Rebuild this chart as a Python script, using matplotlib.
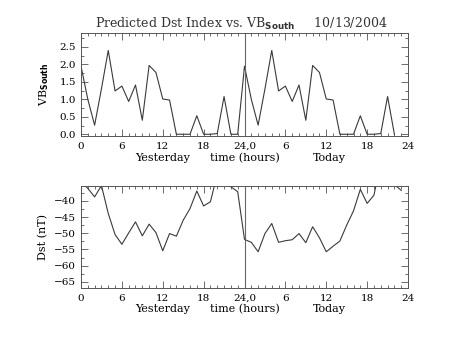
"""Predicted Dst index and southward VB, yesterday and today."""
import numpy as np
import matplotlib

matplotlib.use("Agg")
import matplotlib.pyplot as plt
from matplotlib.ticker import MultipleLocator

# hours since start of yesterday (0-23 yesterday, 24-47 today)
vb_hours = np.arange(0, 47)
vb_south = [1.95, 1.0, 0.26, 1.3, 2.4, 1.24, 1.38, 0.94, 1.41, 0.40,
            1.97, 1.77, 1.01, 0.98, 0.0, 0.0, 0.0, 0.53, 0.0, 0.0,
            0.02, 1.08, 0.0, 0.0,
            1.95, 1.0, 0.26, 1.3, 2.4, 1.24, 1.38, 0.94, 1.41, 0.40,
            1.97, 1.77, 1.01, 0.98, 0.0, 0.0, 0.0, 0.53, 0.0, 0.0,
            0.02, 1.08, 0.0]

dst_hours = np.arange(0, 48)
dst = [-34.0, -36.2, -38.8, -35.3, -43.9, -50.4, -53.4, -49.9, -46.5, -50.8,
       -47.2, -49.8, -55.4, -50.1, -50.9, -46.0, -42.4, -37.0, -41.6, -40.3,
       -31.8, -34.0, -35.7, -37.2,
       -51.9, -52.8, -55.7, -50.1, -47.0, -52.8, -52.3, -52.0, -50.1, -52.9,
       -48.0, -51.4, -55.7, -54.0, -52.4, -47.5, -43.1, -36.5, -40.8, -38.3,
       -28.0, -30.0, -35.0, -36.8]

tick_pos = [0, 6, 12, 18, 24, 30, 36, 42, 48]
tick_labels = ["0", "6", "12", "18", "24,0", "6", "12", "18", "24"]

plt.rcParams["font.family"] = "DejaVu Serif"
line_col = "#3a3a3a"
axis_col = "#555555"

fig = plt.figure(figsize=(4.53, 3.4), dpi=100)
ax1 = fig.add_axes([0.1788, 0.600, 0.7219, 0.303])
ax2 = fig.add_axes([0.1788, 0.153, 0.7219, 0.300])


def style(ax):
    ax.set_xlim(0, 48)
    ax.set_xticks(tick_pos, labels=tick_labels)
    ax.xaxis.set_minor_locator(MultipleLocator(1))
    ax.tick_params(which="both", direction="in", top=True, right=True,
                   color=axis_col, labelsize=7.5, width=0.6)
    ax.tick_params(which="major", length=5)
    ax.tick_params(which="minor", length=2.5)
    ax.tick_params(axis="x", pad=4)
    for s in ax.spines.values():
        s.set_color(axis_col)
        s.set_linewidth(0.7)
    ax.axvline(24, color="#666666", lw=0.8)
    ax.text(12, -0.21, "Yesterday", transform=ax.get_xaxis_transform(),
            ha="center", va="center", fontsize=8)
    ax.text(24, -0.21, "time (hours)", transform=ax.get_xaxis_transform(),
            ha="center", va="center", fontsize=8)
    ax.text(36.5, -0.21, "Today", transform=ax.get_xaxis_transform(),
            ha="center", va="center", fontsize=8)


ax1.plot(vb_hours, vb_south, color=line_col, lw=0.8)
ax1.set_ylim(-0.05, 2.9)
ax1.set_yticks([0.0, 0.5, 1.0, 1.5, 2.0, 2.5])
ax1.yaxis.set_major_formatter(matplotlib.ticker.FormatStrFormatter("%.1f"))
ax1.yaxis.set_minor_locator(MultipleLocator(0.25))
ax1.set_ylabel("VB$_{\\mathbf{South}}$", fontsize=8, labelpad=6)
style(ax1)

ax2.plot(dst_hours, dst, color=line_col, lw=0.8)
ax2.set_ylim(-66.85, -35.45)
ax2.set_yticks([-40, -45, -50, -55, -60, -65])
ax2.yaxis.set_minor_locator(MultipleLocator(2.5))
ax2.set_ylabel("Dst (nT)", fontsize=8, labelpad=4)
style(ax2)

fig.text(0.533, 0.93, "Predicted Dst Index vs. VB$_{\\mathbf{South}}$     10/13/2004",
         ha="center", va="center", fontsize=9, color="#333333")

fig.savefig("out.png", dpi=100)
